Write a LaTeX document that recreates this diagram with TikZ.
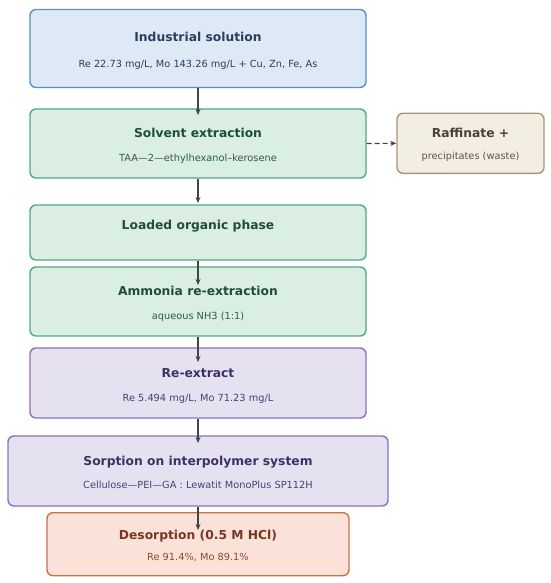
\documentclass[tikz,border=0pt]{standalone}
\usepackage{fontspec}
\setmainfont{DejaVu Sans}
\usetikzlibrary{arrows.meta}
\definecolor{bfill}{HTML}{DDEAF6}\definecolor{bdraw}{HTML}{5A8FCB}\definecolor{btext}{HTML}{2B3F5C}
\definecolor{gfill}{HTML}{DBEEE4}\definecolor{gdraw}{HTML}{4DAA84}\definecolor{gtext}{HTML}{1E4D3B}\definecolor{gsub}{HTML}{2F5A48}
\definecolor{tfill}{HTML}{F3EEE2}\definecolor{tdraw}{HTML}{A8957A}\definecolor{ttext}{HTML}{4A4034}\definecolor{tsub}{HTML}{5E5446}
\definecolor{pfill}{HTML}{E6E1F1}\definecolor{pdraw}{HTML}{8E70C0}\definecolor{ptext}{HTML}{3D3163}\definecolor{psub}{HTML}{4A4070}
\definecolor{ofill}{HTML}{FAE2D9}\definecolor{odraw}{HTML}{C8714A}\definecolor{otext}{HTML}{7A3522}\definecolor{osub}{HTML}{8A4A36}
\definecolor{arr}{HTML}{444444}
\tikzset{
  box/.style={rectangle, rounded corners=6pt, line width=1.4pt, inner sep=0pt},
  title/.style={anchor=base, inner sep=0pt, font=\fontsize{12.3}{14}\selectfont\bfseries},
  sub/.style={anchor=base, inner sep=0pt, font=\fontsize{9.8}{12}\selectfont},
  flow/.style={draw=arr, line width=1.2pt, -{Stealth[length=6pt,width=5pt]}},
}
\begin{document}
\begin{tikzpicture}[x=1pt,y=-1pt]
\useasboundingbox (0,0) rectangle (550,583);
% boxes
\node[box, draw=bdraw, fill=bfill, minimum width=336pt, minimum height=78pt] (ind) at (198,48.5) {};
\node[box, draw=gdraw, fill=gfill, minimum width=336pt, minimum height=69pt] (sx) at (198,143.5) {};
\node[box, draw=tdraw, fill=tfill, minimum width=147pt, minimum height=60pt] (raf) at (470.5,143.3) {};
\node[box, draw=gdraw, fill=gfill, minimum width=336pt, minimum height=55pt] (lop) at (198,232.5) {};
\node[box, draw=gdraw, fill=gfill, minimum width=336pt, minimum height=69pt] (amm) at (198,301.5) {};
\node[box, draw=pdraw, fill=pfill, minimum width=336pt, minimum height=70pt] (rex) at (198,383) {};
\node[box, draw=pdraw, fill=pfill, minimum width=380pt, minimum height=70pt] (sor) at (198,471) {};
\node[box, draw=odraw, fill=ofill, minimum width=302pt, minimum height=63pt] (des) at (198,544.2) {};
% texts
\node[title, text=btext] (indT) at (198,41.7) {Industrial solution};
\node[sub, text=btext] (indS) at (198,67.7) {Re 22.73 mg/L, Mo 143.26 mg/L + Cu, Zn, Fe, As};
\node[title, text=gtext] (sxT) at (198,137.3) {Solvent extraction};
\node[sub, text=gsub] (sxS) at (198,161) {TAA—2—ethylhexanol–kerosene};
\node[title, text=ttext] (rafT) at (470.5,137.9) {Raffinate +};
\node[sub, text=tsub] (rafS) at (470.5,159) {precipitates (waste)};
\node[title, text=gtext] (lopT) at (198,229) {Loaded organic phase};
\node[title, text=gtext] (ammT) at (198,295.7) {Ammonia re-extraction};
\node[sub, text=gsub] (ammS) at (198,319) {aqueous NH3 (1:1)};
\node[title, text=ptext] (rexT) at (198,377.3) {Re-extract};
\node[sub, text=psub] (rexS) at (198,401) {Re 5.494 mg/L, Mo 71.23 mg/L};
\node[title, text=ptext] (sorT) at (198,465.2) {Sorption on interpolymer system};
\node[sub, text=psub] (sorS) at (198,488.5) {Cellulose—PEI—GA : Lewatit MonoPlus SP112H};
\node[title, text=otext] (desT) at (198,539) {Desorption (0.5 M HCl)};
\node[sub, text=osub] (desS) at (198,560) {Re 91.4\%, Mo 89.1\%};
% arrow ends
\coordinate (e1) at (198,115);
\coordinate (e2) at (198,203);
\coordinate (e3) at (198,285);
\coordinate (e4) at (198,362);
\coordinate (e5) at (198,443);
\coordinate (e6) at (198,530);
\draw[flow] (ind.south) -- (e1);
\draw[flow] (sx.south) -- (e2);
\draw[flow] (lop.south) -- (e3);
\draw[flow] (amm.south) -- (e4);
\draw[flow] (rex.south) -- (e5);
\draw[flow] (sor.south) -- (e6);
\draw[flow, dash pattern=on 5pt off 3pt] (sx.east) -- (raf.west);
\end{tikzpicture}
\end{document}
